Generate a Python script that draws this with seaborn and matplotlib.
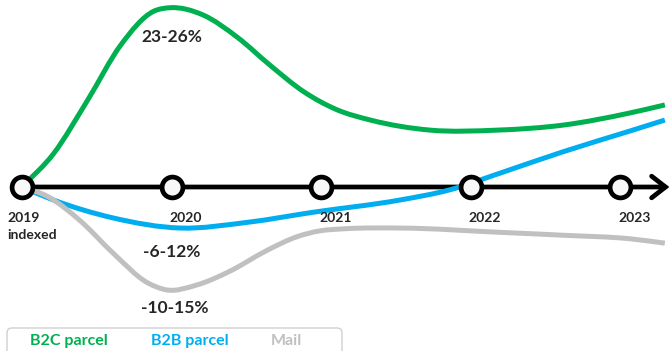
import numpy as np
import pandas as pd
import seaborn as sns
import matplotlib.pyplot as plt
from matplotlib.patches import FancyBboxPatch, PathPatch
from matplotlib.path import Path

# ---- data: volume change vs. 2019 index (%), x as years since 2019 ----
b2c_t = [0.0, 0.21, 0.44, 0.66, 0.88, 0.99, 1.21, 1.44, 1.66, 1.88, 2.11,
         2.33, 2.73, 3.18, 3.62, 4.07, 4.30]
b2c_v = [0.0, 4.6, 12.1, 19.7, 24.4, 24.9, 23.9, 20.8, 16.9, 13.3, 10.7,
         9.3, 7.9, 7.9, 8.6, 10.3, 11.4]

b2b_t = [0.0, 0.21, 0.61, 1.06, 1.51, 1.95, 2.53, 2.86, 3.18, 3.62, 4.07,
         4.30]
b2b_v = [0.0, -1.8, -4.3, -5.7, -4.9, -3.5, -1.8, -0.4, 1.8, 4.9, 7.8, 9.3]

mail_t = [0.0, 0.17, 0.39, 0.61, 0.84, 0.97, 1.17, 1.39, 1.63, 1.84, 1.99,
          2.16, 2.53, 3.20, 3.62, 4.07, 4.30]
mail_v = [0.0, -1.3, -4.7, -9.2, -13.3, -14.3, -13.6, -11.7, -8.9, -6.9,
          -6.1, -5.8, -5.7, -6.3, -6.7, -7.2, -7.8]

series_names = ["B2C parcel", "B2B parcel", "Mail"]
series_colors = ["#00B050", "#00AEEF", "#C0C0C0"]

years = [2019, 2020, 2021, 2022, 2023]
year_labels = ["2019", "2020", "2021", "2022", "2023"]
base_note = "indexed"

peak_labels = ["23-26%", "-6-12%", "-10-15%"]

# ---- long-form table ----
frames = []
for name, t, v in zip(series_names, [b2c_t, b2b_t, mail_t],
                      [b2c_v, b2b_v, mail_v]):
    frames.append(pd.DataFrame({"year": 2019 + np.array(t), "change": v,
                                "series": name}))
df = pd.concat(frames, ignore_index=True)


def smooth_path(x, y):
    """Cubic Bezier path through the points (x-parameterised Hermite)."""
    x = np.asarray(x, float)
    y = np.asarray(y, float)
    h = np.diff(x)
    d = np.diff(y) / h
    m = np.empty(len(x))
    m[0], m[-1] = d[0], d[-1]
    m[1:-1] = (h[:-1] * d[1:] + h[1:] * d[:-1]) / (h[:-1] + h[1:])
    verts = [(x[0], y[0])]
    codes = [Path.MOVETO]
    for i in range(len(x) - 1):
        k = h[i] / 3
        verts += [(x[i] + k, y[i] + m[i] * k),
                  (x[i + 1] - k, y[i + 1] - m[i + 1] * k),
                  (x[i + 1], y[i + 1])]
        codes += [Path.CURVE4] * 3
    return Path(verts, codes)


sns.set_theme(style="white")
plt.rcParams["font.family"] = ["Lato", "DejaVu Sans"]

W, H = 672, 351
fig = plt.figure(figsize=(W / 100, H / 100), dpi=100)
ax = fig.add_axes([0, 0, 1, 1])
ax.set_axis_off()

px_per_year = 149.5
px_per_unit = 7.2
x0_px, y0_px = 22, 187
ax.set_xlim(2019 - x0_px / px_per_year, 2019 + (W - x0_px) / px_per_year)
ax.set_ylim(-(H - y0_px) / px_per_unit, y0_px / px_per_unit)

# timeline with open arrow head
ax.annotate("", xy=(2023.33, 0), xytext=(2019, 0),
            arrowprops=dict(arrowstyle="->,head_length=1.0,head_width=0.78",
                            lw=3.4, color="black", shrinkA=0, shrinkB=0,
                            mutation_scale=10, joinstyle="miter"),
            zorder=2)

# volume curves, smoothed through the points
palette = dict(zip(series_names, series_colors))
for name, grp in df.groupby("series", sort=False):
    patch = PathPatch(smooth_path(grp["year"], grp["change"]),
                      facecolor="none", edgecolor=palette[name],
                      linewidth=3.6, capstyle="butt", joinstyle="round",
                      zorder=3)
    ax.add_patch(patch)

# year stations
sns.scatterplot(x=years, y=[0] * len(years), s=225, color="#F8F8F8",
                edgecolor="black", linewidth=3.4, ax=ax, zorder=5,
                legend=False)

text_color = "#262626"
for yr, lab in zip(years, year_labels):
    dx = -15 if yr == 2019 else -2
    ax.annotate(lab, xy=(yr, 0), xytext=(dx, -35), textcoords="offset pixels",
                ha="left", va="baseline", fontsize=10, fontweight="bold",
                color=text_color)
ax.annotate(base_note, xy=(years[0], 0), xytext=(-15, -52),
            textcoords="offset pixels", ha="left", va="baseline",
            fontsize=10, fontweight="bold", color=text_color)

# range labels near each turning point
label_pos = [(2020.0, 20.1), (2020.0, -9.7), (2020.02, -17.5)]
for lab, (lx, ly) in zip(peak_labels, label_pos):
    ax.text(lx, ly, lab, ha="center", va="baseline", fontsize=12.5,
            fontweight="bold", color=text_color)

# legend strip at the bottom
box = FancyBboxPatch((0.07, -0.15), 3.35, (H - 328) / 100 + 0.15,
                     boxstyle="round,pad=0,rounding_size=0.05",
                     transform=fig.dpi_scale_trans, facecolor="white",
                     edgecolor="#D0D0D0", linewidth=1.0, clip_on=False)
fig.add_artist(box)
for name, col, cx in zip(series_names, series_colors, [69, 190, 286]):
    fig.text(cx / W, (H - 345) / H, name, ha="center", va="baseline",
             fontsize=11.5, fontweight="bold", color=col)

fig.savefig("out.png", dpi=100)
